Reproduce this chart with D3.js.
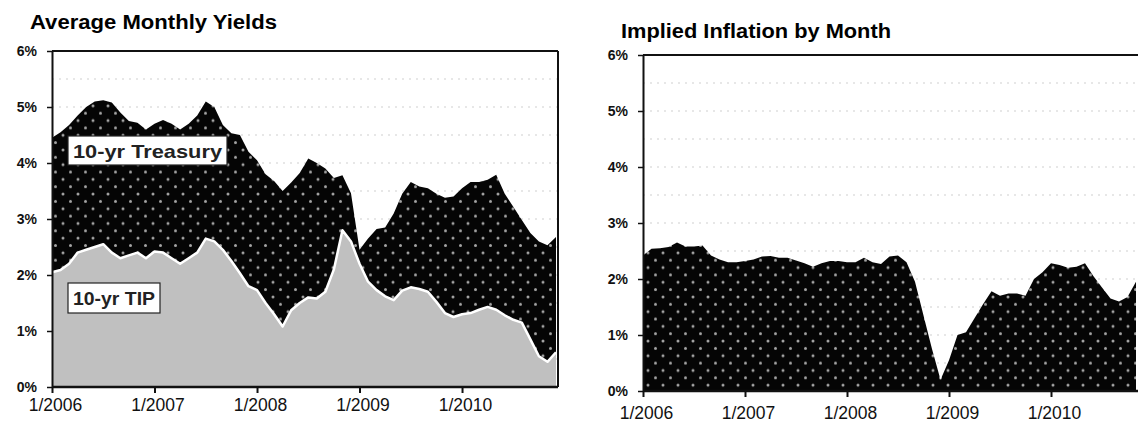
<!DOCTYPE html>
<html>
<head>
<meta charset="utf-8">
<script src="https://cdnjs.cloudflare.com/ajax/libs/d3/7.8.5/d3.min.js"></script>
<style>
  body { margin: 0; background: #fff; }
  svg { display: block; font-family: "Liberation Sans", Arial, sans-serif; }
</style>
</head>
<body>
<script>
// monthly values, 1/2006 .. 12/2010
const treasury = [4.45, 4.55, 4.68, 4.85, 5.0, 5.1, 5.12, 5.08, 4.9, 4.75, 4.72, 4.6,
                  4.7, 4.77, 4.7, 4.6, 4.7, 4.85, 5.1, 5.0, 4.68, 4.53, 4.5, 4.2,
                  4.05, 3.8, 3.68, 3.5, 3.65, 3.82, 4.08, 4.0, 3.9, 3.73, 3.78, 3.46,
                  2.45, 2.65, 2.82, 2.85, 3.1, 3.45, 3.66, 3.58, 3.55, 3.45, 3.38, 3.4,
                  3.55, 3.66, 3.66, 3.7, 3.79, 3.45, 3.22, 2.98, 2.75, 2.6, 2.53, 2.68];
const tips = [2.05, 2.09, 2.2, 2.4, 2.45, 2.5, 2.55, 2.4, 2.3, 2.35, 2.4, 2.3,
              2.42, 2.4, 2.3, 2.2, 2.3, 2.4, 2.65, 2.6, 2.45, 2.25, 2.03, 1.8,
              1.73, 1.5, 1.3, 1.08, 1.37, 1.5, 1.6, 1.58, 1.7, 2.1, 2.8, 2.6,
              2.2, 1.88, 1.73, 1.62, 1.55, 1.72, 1.78, 1.75, 1.7, 1.52, 1.32, 1.25,
              1.3, 1.32, 1.38, 1.43, 1.38, 1.28, 1.2, 1.15, 0.85, 0.55, 0.45, 0.62];
// implied inflation, right panel (cut off at the picture edge)
const inflation = [2.42, 2.54, 2.55, 2.57, 2.65, 2.58, 2.58, 2.6, 2.42, 2.35, 2.3, 2.3,
                   2.32, 2.35, 2.4, 2.41, 2.38, 2.38, 2.33, 2.28, 2.22, 2.28, 2.32, 2.32,
                   2.3, 2.3, 2.38, 2.3, 2.27, 2.4, 2.42, 2.3, 1.95, 1.35, 0.75, 0.2,
                   0.55, 1.0, 1.05, 1.3, 1.55, 1.78, 1.7, 1.74, 1.74, 1.7, 2.0, 2.12,
                   2.28, 2.25, 2.2, 2.22, 2.28, 2.05, 1.85, 1.65, 1.6, 1.68, 1.95];
const yearTicks = [0, 12, 24, 36, 48];
const yearLabels = ["1/2006", "1/2007", "1/2008", "1/2009", "1/2010"];
const pctTicks = [0, 1, 2, 3, 4, 5, 6];
const gridSteps = [0.5, 1, 1.5, 2, 2.5, 3, 3.5, 4, 4.5, 5, 5.5];

const svg = d3.select("body").append("svg")
    .attr("width", 1138)
    .attr("height", 427);

const defs = svg.append("defs");
const pat = defs.append("pattern")
    .attr("id", "dots")
    .attr("patternUnits", "userSpaceOnUse")
    .attr("width", 15)
    .attr("height", 14.7);
pat.append("rect").attr("width", 15).attr("height", 14.7).attr("fill", "#050505");
pat.append("circle").attr("cx", 3).attr("cy", 3).attr("r", 1.5).attr("fill", "#a4a4a4");
pat.append("circle").attr("cx", 10.5).attr("cy", 10.35).attr("r", 1.5).attr("fill", "#a4a4a4");

function drawPanel(p) {
  let x = d3.scaleLinear().domain([0, 59]).range([p.left, p.left + 59 * p.step]);
  let y = d3.scaleLinear().domain([0, 6]).range([p.bottom, p.top]);
  let g = svg.append("g");

  // faint dotted grid
  g.selectAll(".grid")
      .data(gridSteps)
      .enter()
      .append("line")
      .attr("x1", p.left)
      .attr("x2", p.right)
      .attr("y1", d => y(d))
      .attr("y2", d => y(d))
      .attr("stroke", "#cfcfcf")
      .attr("stroke-width", 1)
      .attr("stroke-dasharray", "2,5");

  p.series.forEach(s => {
    let area = d3.area()
        .x((d, i) => x(i))
        .y0(y(0))
        .y1(d => y(d));
    g.append("path")
        .datum(s.values)
        .attr("d", area)
        .attr("fill", s.fill);
    if (s.edge) {
      g.append("path")
          .datum(s.values)
          .attr("d", d3.line().x((d, i) => x(i)).y(d => y(d)))
          .attr("fill", "none")
          .attr("stroke", s.edge)
          .attr("stroke-width", 2.5)
          .attr("stroke-linejoin", "round");
    }
  });

  // frame
  g.append("line")
      .attr("x1", p.left).attr("x2", p.right)
      .attr("y1", p.top).attr("y2", p.top)
      .attr("stroke", "#111").attr("stroke-width", 2);
  if (p.right < 1138) {
    g.append("line")
        .attr("x1", p.right).attr("x2", p.right)
        .attr("y1", p.top).attr("y2", p.bottom)
        .attr("stroke", "#111").attr("stroke-width", 2);
  }

  let yAxis = g.append("g")
      .attr("transform", "translate(" + p.left + ",0)")
      .call(d3.axisLeft(y).tickValues(pctTicks).tickSize(5).tickSizeOuter(0).tickFormat(d => d + "%"));
  yAxis.select(".domain").attr("stroke", "#111").attr("stroke-width", 2);
  yAxis.selectAll(".tick line").attr("stroke", "#111").attr("stroke-width", 1.5);
  yAxis.selectAll("text")
      .attr("x", -15)
      .attr("font-size", 14)
      .attr("font-weight", "bold")
      .attr("fill", "#111");

  let xAxis = g.append("g")
      .attr("transform", "translate(0," + p.bottom + ")")
      .call(d3.axisBottom(x).tickValues(yearTicks).tickSize(6).tickSizeOuter(0)
            .tickFormat((d, i) => yearLabels[i]));
  xAxis.select(".domain")
      .attr("d", "M" + p.left + ",0H" + p.right)
      .attr("stroke", "#111").attr("stroke-width", 2.5);
  xAxis.selectAll(".tick line").attr("stroke", "#111").attr("stroke-width", 2);
  xAxis.selectAll("text")
      .attr("y", p.labelDy)
      .attr("dx", 3)
      .attr("font-size", 17.5)
      .attr("fill", "#111");

  svg.append("text")
      .attr("x", p.titleX)
      .attr("y", p.titleY)
      .attr("font-size", 20)
      .attr("font-weight", "bold")
      .attr("textLength", p.titleW)
      .attr("lengthAdjust", "spacingAndGlyphs")
      .text(p.title);
  return {x, y};
}

drawPanel({
  left: 52, right: 558, top: 51, bottom: 387, step: 504 / 59, labelDy: 12,
  title: "Average Monthly Yields", titleX: 30, titleY: 29, titleW: 247,
  series: [
    {values: treasury, fill: "url(#dots)"},
    {values: tips, fill: "#c0c0c0", edge: "#fff"}
  ]
});

drawPanel({
  left: 643, right: 1138, top: 55, bottom: 391, step: 8.5, labelDy: 16,
  title: "Implied Inflation by Month", titleX: 621, titleY: 38, titleW: 270,
  series: [
    {values: inflation, fill: "url(#dots)"}
  ]
});

// series labels in the left panel
const tags = [
  {text: "10-yr Treasury", x: 68, y: 136, w: 159, h: 29},
  {text: "10-yr TIP", x: 68, y: 283, w: 92, h: 30}
];
tags.forEach(t => {
  svg.append("rect")
      .attr("x", t.x).attr("y", t.y)
      .attr("width", t.w).attr("height", t.h)
      .attr("fill", "#fff")
      .attr("stroke", "#222")
      .attr("stroke-width", 1.2);
  svg.append("text")
      .attr("x", t.x + 5)
      .attr("y", t.y + t.h / 2 + 7)
      .attr("font-size", 19)
      .attr("font-weight", "bold")
      .attr("fill", "#222")
      .attr("textLength", t.w - 10)
      .attr("lengthAdjust", "spacingAndGlyphs")
      .text(t.text);
});
</script>
</body>
</html>
